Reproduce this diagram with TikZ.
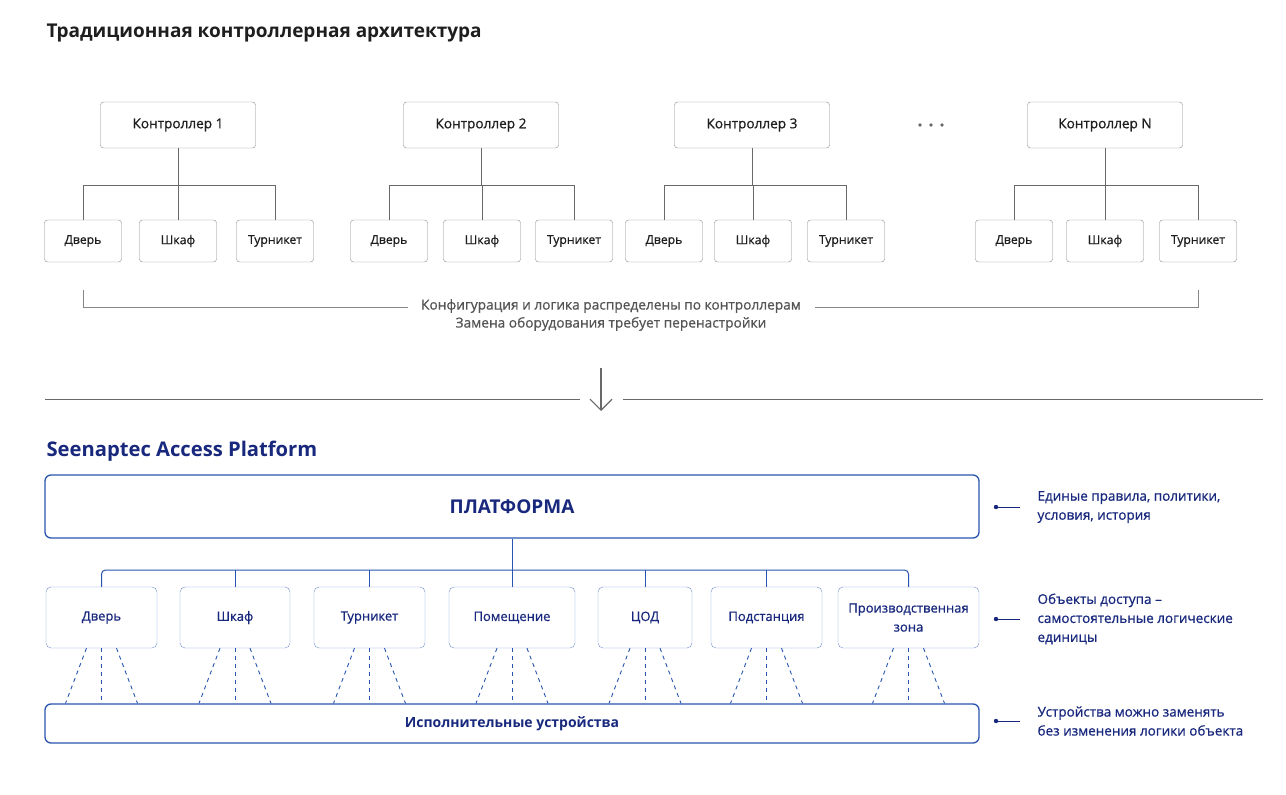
\documentclass[tikz,border=0pt]{standalone}
\usepackage{fontspec}
\setmainfont{Open Sans}
\newfontfamily\medium[FakeBold=0.8]{Open Sans}
\usetikzlibrary{arrows.meta,calc}
\definecolor{navy}{RGB}{24,40,125}
\definecolor{blueline}{RGB}{40,85,175}
\definecolor{bluebox}{RGB}{115,140,205}
\definecolor{boxgray}{RGB}{135,135,135}
\definecolor{linegray}{RGB}{105,105,105}
\definecolor{textdark}{RGB}{30,30,30}
\definecolor{textgray}{RGB}{85,85,85}
\begin{document}
\begin{tikzpicture}[x=1pt,y=-1pt,
    ctrl/.style={draw=boxgray,rounded corners=3pt,minimum width=155pt,minimum height=46pt,inner sep=0pt,
        font=\fontsize{13.6}{16}\selectfont\medium,text=textdark},
    unit/.style={draw=boxgray,rounded corners=3pt,minimum width=77pt,minimum height=42pt,inner sep=0pt,
        font=\fontsize{12.2}{15}\selectfont\medium,text=textdark},
    obj/.style={draw=bluebox,rounded corners=5pt,minimum height=61pt,inner sep=0pt,align=center,
        font=\fontsize{13}{19}\selectfont\medium,text=navy},
    wide/.style={draw=blueline,line width=1.3pt,rounded corners=6pt,minimum width=934pt,inner sep=0pt,text=navy},
    note/.style={anchor=west,align=left,text=navy,font=\fontsize{13.5}{19}\selectfont\medium},
    tree/.style={draw=linegray,line width=0.9pt}]
    \useasboundingbox (0,0) rectangle (1286,795);

    \node[anchor=west,text=textdark,font=\fontsize{19}{22}\selectfont\bfseries] (title) at (43,33) {Традиционная контроллерная архитектура};

    \node[ctrl] (c1) at (178,125) {Контроллер 1};
    \node[ctrl] (c2) at (481,125) {Контроллер 2};
    \node[ctrl] (c3) at (752,125) {Контроллер 3};
    \node[ctrl] (cN) at (1105,125) {Контроллер N};
    \foreach \x in {920,931,942} {
        \fill[linegray] (\x,125) circle (1.8);
    }

    \node[unit] (d1) at (83,241) {Дверь};
    \node[unit] (s1) at (178,241) {Шкаф};
    \node[unit] (t1) at (275,241) {Турникет};
    \node[unit] (d2) at (389,241) {Дверь};
    \node[unit] (s2) at (482,241) {Шкаф};
    \node[unit] (t2) at (574,241) {Турникет};
    \node[unit] (d3) at (664,241) {Дверь};
    \node[unit] (s3) at (753,241) {Шкаф};
    \node[unit] (t3) at (846,241) {Турникет};
    \node[unit] (d4) at (1014,241) {Дверь};
    \node[unit] (s4) at (1105,241) {Шкаф};
    \node[unit] (t4) at (1198,241) {Турникет};

    \foreach \i in {1,2,3,4} {
        \coordinate (b\i) at ($(d\i.north)+(0,-34)$);
        \draw[tree] (d\i.north) |- (b\i) -| (t\i.north);
        \draw[tree] (s\i.north |- b\i) -- (s\i.north);
    }
    \draw[tree] (c1.south) -- (c1.south |- b1);
    \draw[tree] (c2.south) -- (c2.south |- b2);
    \draw[tree] (c3.south) -- (c3.south |- b3);
    \draw[tree] (cN.south) -- (cN.south |- b4);

    \node[align=center,text=textgray,font=\fontsize{13.7}{18}\selectfont\medium] (cap) at (611,315)
        {Конфигурация и логика распределены по контроллерам\\Замена оборудования требует перенастройки};
    \coordinate (capl) at (408,307);
    \coordinate (capr) at (815,307);
    \draw[draw=boxgray,line width=0.9pt] ($(d1.south)+(0,28)$) |- (capl);
    \draw[draw=boxgray,line width=0.9pt] (capr) -| ($(t4.south)+(0,28)$);

    \coordinate (sepl) at (45,399);
    \coordinate (sepr) at (1263,399);
    \draw[draw=linegray,line width=1pt] (sepl) -- (580,399);
    \draw[draw=linegray,line width=1pt] (623,399) -- (sepr);
    \draw[draw=linegray,line width=1.2pt,-{Straight Barb[length=11pt,width=22pt]}] (601,368) -- (601,411);

    \node[anchor=west,text=navy,font=\fontsize{20.2}{24}\selectfont\bfseries] (brand) at (43,451) {Seenaptec Access Platform};

    \node[wide,minimum height=63pt,font=\fontsize{19}{22}\selectfont\bfseries] (pl) at (512,506.5) {ПЛАТФОРМА};

    \node[obj,minimum width=111pt] (o1) at (101.5,617.5) {Дверь};
    \node[obj,minimum width=110pt] (o2) at (235,617.5) {Шкаф};
    \node[obj,minimum width=111pt] (o3) at (369.5,617.5) {Турникет};
    \node[obj,minimum width=126pt] (o4) at (512,617.5) {Помещение};
    \node[obj,minimum width=94pt] (o5) at (645,617.5) {ЦОД};
    \node[obj,minimum width=111pt] (o6) at (766.5,617.5) {Подстанция};
    \node[obj,minimum width=141pt] (o7) at (908.5,617.5) {Производственная\\зона};

    \coordinate (bus) at (512,570);
    \draw[draw=blueline,line width=1pt] (pl.south) -- (bus);
    \draw[draw=blueline,line width=1pt,rounded corners=4pt] (o1.north) |- (bus) -| (o7.north);
    \foreach \i in {2,...,6} {
        \draw[draw=blueline,line width=1pt] (o\i.north |- bus) -- (o\i.north);
    }

    \node[wide,minimum height=39pt,font=\fontsize{14}{18}\selectfont\bfseries] (ex) at (512,723.5) {Исполнительные устройства};

    \foreach \i in {1,...,7} {
        \draw[draw=blueline,line width=0.9pt,dash pattern=on 4pt off 4pt] ($(o\i.south)+(-15,0)$) -- ($(o\i.south |- ex.north)+(-36,0)$);
        \draw[draw=blueline,line width=0.9pt,dash pattern=on 4pt off 4pt] (o\i.south) -- (o\i.south |- ex.north);
        \draw[draw=blueline,line width=0.9pt,dash pattern=on 4pt off 4pt] ($(o\i.south)+(15,0)$) -- ($(o\i.south |- ex.north)+(36,0)$);
    }

    \node[note] (n1) at (1034,507) {Единые правила, политики,\\условия, история};
    \node[note] (n2) at (1034,619) {Объекты доступа –\\самостоятельные логические\\единицы};
    \node[note] (n3) at (1034,721) {Устройства можно заменять\\без изменения логики объекта};
    \foreach \y in {507,619,721} {
        \fill[navy] (996,\y) circle (2.2);
        \draw[draw=navy,line width=0.9pt] (996,\y) -- (1020,\y);
    }
\end{tikzpicture}
\end{document}
